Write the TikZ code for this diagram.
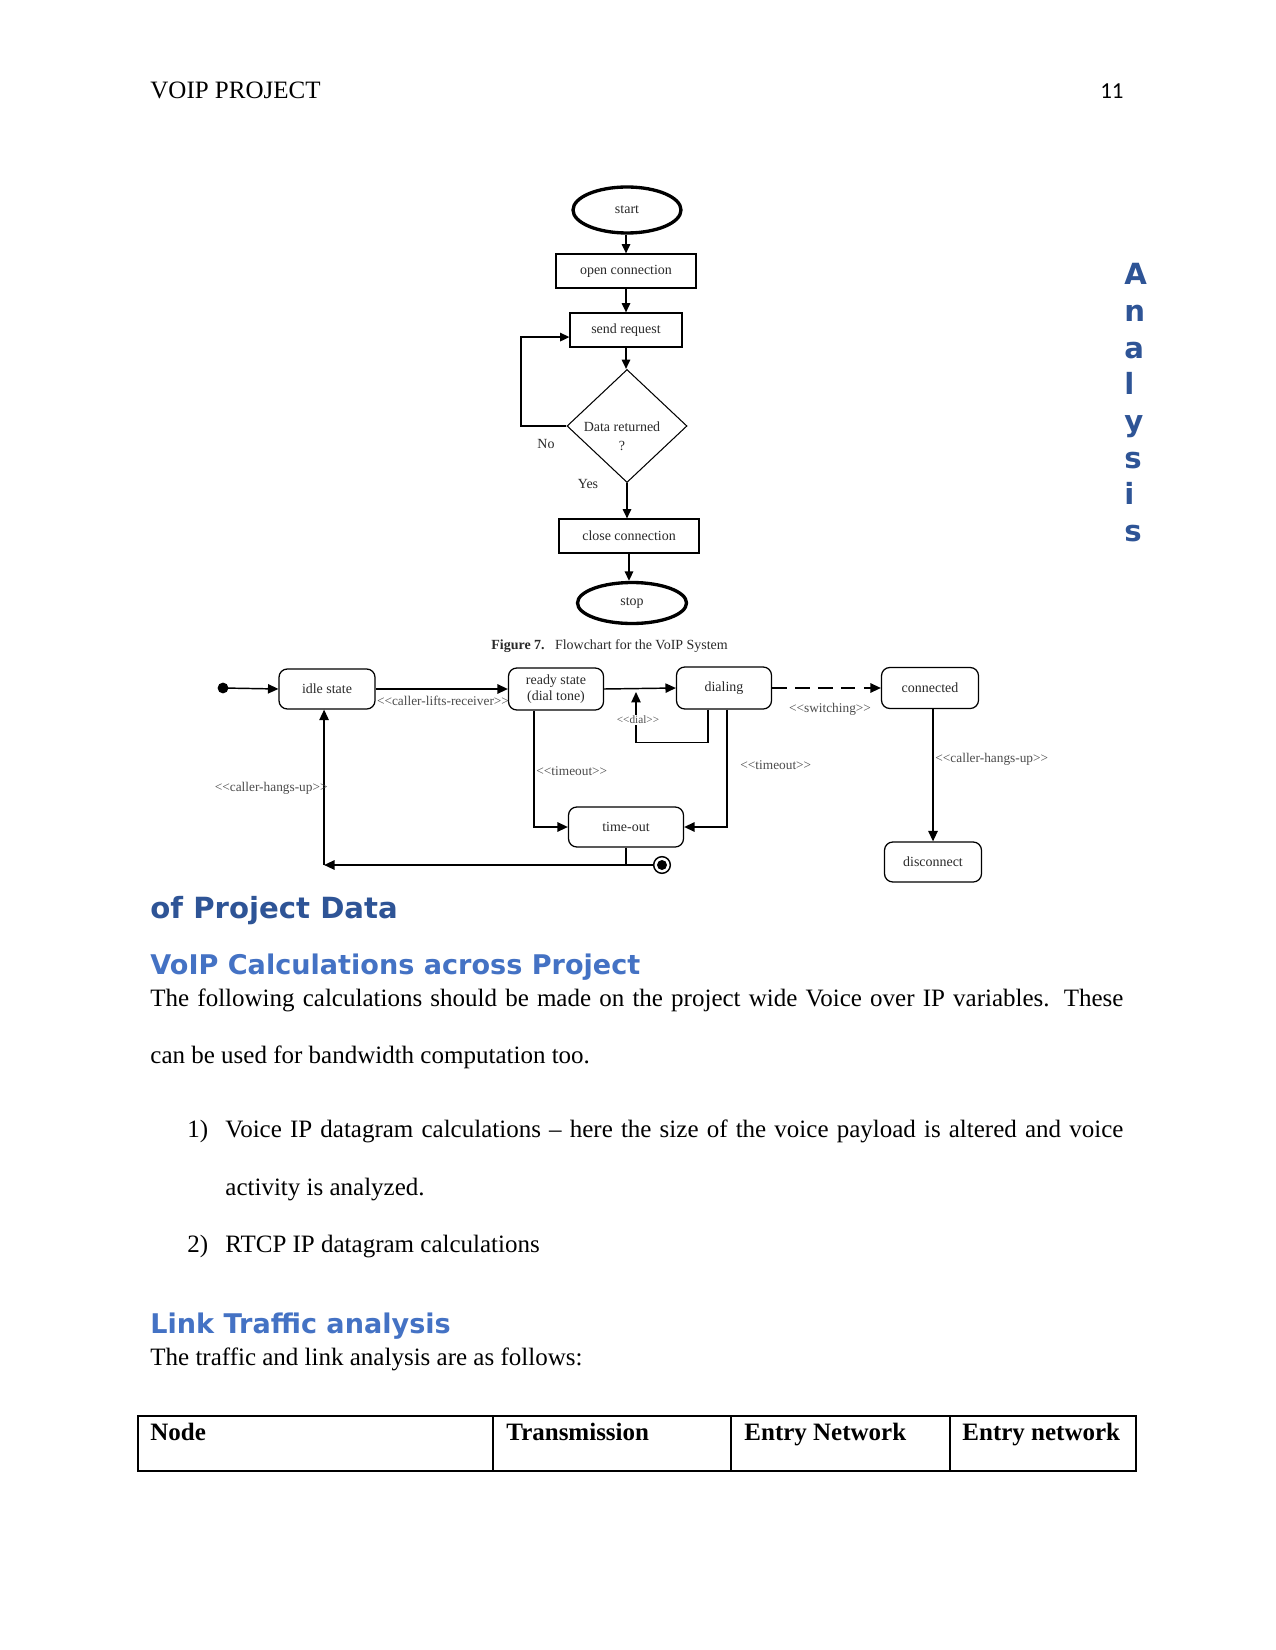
\documentclass[tikz,border=0pt]{standalone}
\usepackage{fontspec}
\setmainfont{Liberation Serif}
\newfontfamily\headfont{DejaVu Sans}
\newfontfamily\pgnumfont{Carlito}
\usetikzlibrary{shapes.geometric,arrows.meta,calc}
\definecolor{darkblue}{HTML}{2E5496}
\definecolor{lightblue}{HTML}{4472C4}
\definecolor{txtgray}{HTML}{2A2A2A}
\newcommand\LLg{<\kern0pt<}
\newcommand\RRg{>\kern0pt>}
\begin{document}
\begin{tikzpicture}[x=0.48pt,y=-0.48pt,
  fc/.style={font=\fontsize{6.7}{8}\selectfont, text=txtgray},
  fbox/.style 2 args={draw, line width=0.5pt, rectangle, minimum width=#1*0.48pt, minimum height=#2*0.48pt, inner sep=0pt, fc},
  term/.style 2 args={draw, ellipse, line width=1.6pt, minimum width=#1*0.48pt, minimum height=#2*0.48pt, inner sep=0pt, fc},
  farr/.style={line width=0.9pt, -{Triangle[length=4.5pt,width=4pt]}},
  st/.style 2 args={draw, rounded corners=4pt, line width=0.6pt, minimum width=#1*0.48pt, minimum height=#2*0.48pt, inner sep=0pt, fc, align=center},
  sarr/.style={line width=0.7pt, -{Triangle[length=5pt,width=4.5pt]}},
  lbl/.style={font=\fontsize{6.4}{7.5}\selectfont, text=black!70, inner sep=0pt},
  body/.style={font=\fontsize{12}{14}\selectfont, anchor=base west, inner sep=0pt},
  head/.style={font=\headfont\bfseries\fontsize{14}{16}\selectfont, anchor=base west, inner sep=0pt},
  headb/.style={font=\headfont\bfseries\fontsize{13}{15}\selectfont, anchor=base west, inner sep=0pt},
]
\useasboundingbox[fill=white] (0,0) rectangle (1275,1650);

% header
\node[body] (hdr) at (150,99) {VOIP PROJECT};
\node[font=\pgnumfont\fontsize{11}{13}\selectfont, anchor=base east, inner sep=0pt] (pg) at (1124,99) {11};

% vertical "Analysis"
\foreach \ch [count=\i from 0] in {A,n,a,l,y,s,i,s}
  \node[head, text=darkblue] (an\i) at (1124,{285+36.6*\i}) {\ch};

% ---------- flowchart ----------
\node[term={108}{46}] (start) at (627,210) {start};
\node[fbox={140}{34}] (open) at (626,271) {open connection};
\node[fbox={112}{34}] (send) at (626,330) {send request};
\node[draw, diamond, line width=0.5pt, minimum width=120*0.48pt, minimum height=113*0.48pt, inner sep=0pt] (dia) at (627,426) {};
\node[fc, align=center, inner sep=0pt] (diat) at (622,436) {Data returned\\[1pt]?};
\node[fbox={140}{34}] (close) at (629,536) {close connection};
\node[term={109}{41}] (stop) at (632,603) {stop};
\node[fc, anchor=base west, inner sep=0pt] (cap) at (491,649) {\textbf{Figure 7.}\hspace{5pt}Flowchart for the VoIP System};
\node[fc] (no) at (546,444) {No};
\node[fc] (yes) at (588,484) {Yes};

\draw[farr] (open.north |- start.south) -- (open.north);
\draw[farr] (open.south) -- (send.north);
\draw[farr] (send.south) -- (send.south |- dia.north);
\draw[farr] (dia.south) -- (dia.south |- close.north);
\draw[farr] (close.south) -- (close.south |- stop.north);
\coordinate (loopc) at (521,426);
\draw[farr] (dia.west) -- (loopc) |- ([yshift=-3.4pt]send.west);

% ---------- state diagram ----------
\fill (223,688) circle[radius=2.6pt] coordinate (init);
\node[st={96}{40}] (idle) at (327,689) {idle state};
\node[st={95}{42}, font=\fontsize{6.7}{7.6}\selectfont] (ready) at (556,689) {\raisebox{-1.5pt}{\parbox{38pt}{\centering ready state\\(dial tone)}}};
\node[st={95}{42}] (dialing) at (724,688) {dialing};
\node[st={97}{41}] (conn) at (930,688) {connected};
\node[st={115}{40}] (tout) at (626,827) {time-out};
\node[st={97}{40}] (disc) at (933,862) {disconnect};
\node[circle, draw, line width=0.7pt, minimum size=8pt, inner sep=0pt] (final) at (662,865) {};
\fill (final) circle[radius=2.4pt];

\draw[sarr] (init) -- (idle.west);
\draw[sarr] (idle.east) -- (ready.west);
\draw[sarr] (ready.east) -- (dialing.west);
\draw[sarr, dash pattern=on 7pt off 4pt] (dialing.east) -- (conn.west);
\coordinate (dialtip) at (636,692);
\draw[sarr] ([xshift=-7.7pt]dialing.south) -- ++(0,33) -| (dialtip);
\draw[sarr] ([xshift=-10.6pt]ready.south) |- (tout.west);
\draw[sarr] ([xshift=1.4pt]dialing.south) |- (tout.east);
\draw[line width=0.7pt] (tout.south) -- (tout.south |- final);
\coordinate (corner) at ([xshift=-1.4pt]idle.south |- final);
\draw[sarr] (final.west) -- (corner);
\draw[sarr] (corner) -- ([xshift=-1.4pt]idle.south);
\draw[sarr] (conn.south -| disc.north) -- (disc.north);

\node[lbl] (lcl) at (443,701) {\LLg caller-lifts-receiver\RRg};
\node[lbl, font=\fontsize{5.4}{6}\selectfont, fill=white, inner sep=0.6pt] (ldial) at (638,720) {\LLg dial\RRg};
\node[lbl, anchor=west] (lto1) at (536,771) {\LLg timeout\RRg};
\node[lbl, anchor=west] (lto2) at (740,765) {\LLg timeout\RRg};
\node[lbl] (lsw) at (830,709) {\LLg switching\RRg};
\node[lbl, anchor=east] (lhu1) at (328,788) {\LLg caller-hangs-up\RRg};
\node[lbl, anchor=west] (lhu2) at (935,759) {\LLg caller-hangs-up\RRg};

% ---------- text ----------
\node[head, text=darkblue] (h1) at (150,918) {of Project Data};
\node[headb, text=lightblue] (h2) at (150,974) {VoIP Calculations across Project};
\node[body] (p1) at (150,1006) {\makebox[467pt][s]{The following calculations should be made on the project wide Voice over IP variables. These}};
\node[body] (p2) at (150,1063) {can be used for bandwidth computation too.};
\node[body] (n1) at (187,1137) {1)};
\node[body] (i1) at (225,1137) {\makebox[431pt][s]{Voice IP datagram calculations – here the size of the voice payload is altered and voice}};
\node[body] (i1b) at (225,1195) {activity is analyzed.};
\node[body] (n2) at (187,1252) {2)};
\node[body] (i2) at (225,1252) {RTCP IP datagram calculations};
\node[headb, text=lightblue] (h3) at (150,1333) {Link Traffic analysis};
\node[body] (p3) at (150,1365) {The traffic and link analysis are as follows:};

% table
\draw[line width=0.7pt] (138,1416) rectangle (1136,1471);
\draw[line width=0.5pt] (493,1416) -- (493,1471) (731,1416) -- (731,1471) (950,1416) -- (950,1471);
\node[body, font=\bfseries\fontsize{12}{14}\selectfont] (t1) at (150,1440) {Node};
\node[body, font=\bfseries\fontsize{12}{14}\selectfont] (t2) at (506,1440) {Transmission};
\node[body, font=\bfseries\fontsize{12}{14}\selectfont] (t3) at (744,1440) {Entry Network};
\node[body, font=\bfseries\fontsize{12}{14}\selectfont] (t4) at (962,1440) {Entry network};
\end{tikzpicture}
\end{document}
